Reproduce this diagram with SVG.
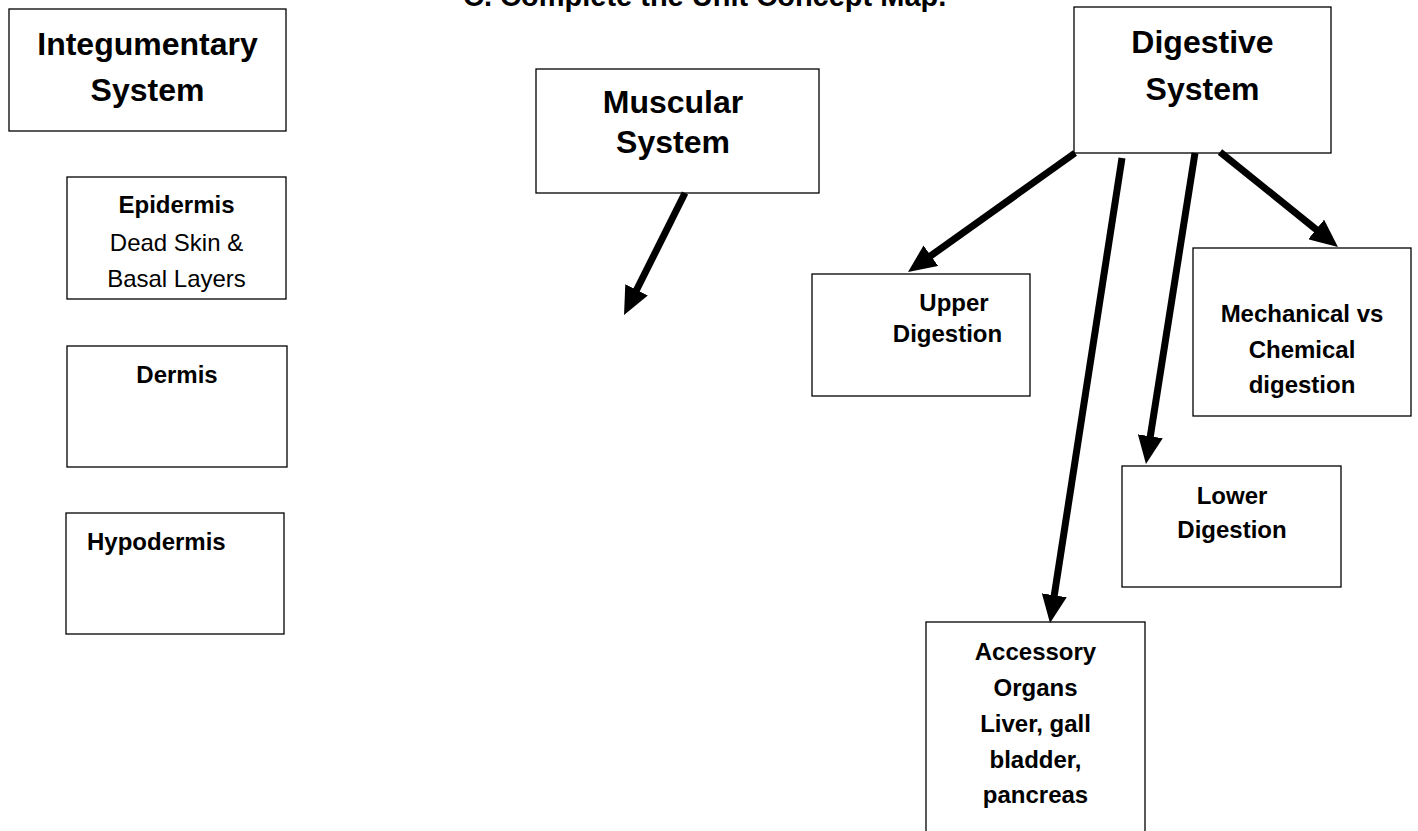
<svg xmlns="http://www.w3.org/2000/svg" width="1418" height="831" viewBox="0 0 1418 831">
<style>
  .box { fill: #ffffff; stroke: #000000; stroke-width: 1.3; }
  .big { font-family: "Liberation Sans", Arial, sans-serif; font-weight: bold; font-size: 32px; fill: #000; text-anchor: middle; }
  .sm { font-family: "Liberation Sans", Arial, sans-serif; font-weight: bold; font-size: 24px; fill: #000; text-anchor: middle; }
  .reg { font-family: "Liberation Sans", Arial, sans-serif; font-weight: normal; font-size: 24px; fill: #000; text-anchor: middle; }
  .title { font-family: "Liberation Sans", Arial, sans-serif; font-weight: bold; font-size: 29px; fill: #000; }
  .arrow { stroke: #000; stroke-width: 7; fill: none; marker-end: url(#head); }
</style>
<defs>
  <marker id="head" viewBox="0 0 10 9" refX="3" refY="4.5" markerWidth="4" markerHeight="3.6" orient="auto" markerUnits="strokeWidth">
    <path d="M0,0 L10,4.5 L0,9 z" fill="#000"/>
  </marker>
</defs>
<rect width="1418" height="831" fill="#ffffff"/>

<text class="title" x="463" y="6">C. Complete the Unit Concept Map.</text>

<g id="integumentary">
  <rect class="box" x="9" y="9" width="277" height="122"/>
  <text class="big" x="147.5" y="55">Integumentary</text>
  <text class="big" x="147.5" y="101">System</text>
</g>

<g id="epidermis">
  <rect class="box" x="67" y="177" width="219" height="122"/>
  <text class="sm" x="176.5" y="213">Epidermis</text>
  <text class="reg" x="176.5" y="251">Dead Skin &amp;</text>
  <text class="reg" x="176.5" y="287">Basal Layers</text>
</g>

<g id="dermis">
  <rect class="box" x="67" y="346" width="220" height="121"/>
  <text class="sm" x="177" y="383">Dermis</text>
</g>

<g id="hypodermis">
  <rect class="box" x="66" y="513" width="218" height="121"/>
  <text class="sm" x="87" y="550" style="text-anchor:start">Hypodermis</text>
</g>

<g id="muscular">
  <rect class="box" x="536" y="69" width="283" height="124"/>
  <text class="big" x="673" y="113">Muscular</text>
  <text class="big" x="673" y="153">System</text>
</g>

<g id="digestive">
  <rect class="box" x="1074" y="7" width="257" height="146"/>
  <text class="big" x="1202.5" y="53">Digestive</text>
  <text class="big" x="1202.5" y="100">System</text>
</g>

<g id="upper">
  <rect class="box" x="812" y="274" width="218" height="122"/>
  <text class="sm" x="954" y="311">Upper</text>
  <text class="sm" x="947.5" y="342">Digestion</text>
</g>

<g id="mechanical">
  <rect class="box" x="1193" y="248" width="218" height="168"/>
  <text class="sm" x="1302" y="322">Mechanical vs</text>
  <text class="sm" x="1302" y="358">Chemical</text>
  <text class="sm" x="1302" y="393">digestion</text>
</g>

<g id="lower">
  <rect class="box" x="1122" y="466" width="219" height="121"/>
  <text class="sm" x="1232" y="504">Lower</text>
  <text class="sm" x="1232" y="538">Digestion</text>
</g>

<g id="accessory">
  <rect class="box" x="926" y="622" width="219" height="230"/>
  <text class="sm" x="1035.5" y="660">Accessory</text>
  <text class="sm" x="1035.5" y="696">Organs</text>
  <text class="sm" x="1035.5" y="732">Liver, gall</text>
  <text class="sm" x="1035.5" y="768">bladder,</text>
  <text class="sm" x="1035.5" y="803">pancreas</text>
</g>

<g id="connectors">
  <line class="arrow" x1="685" y1="193" x2="632.8" y2="297.5"/>
  <line class="arrow" x1="1075" y1="153" x2="924" y2="260.6"/>
  <line class="arrow" x1="1122" y1="158" x2="1053" y2="603.6"/>
  <line class="arrow" x1="1195" y1="153" x2="1149" y2="444.6"/>
  <line class="arrow" x1="1220" y1="152" x2="1322.7" y2="234.7"/>
</g>
</svg>
